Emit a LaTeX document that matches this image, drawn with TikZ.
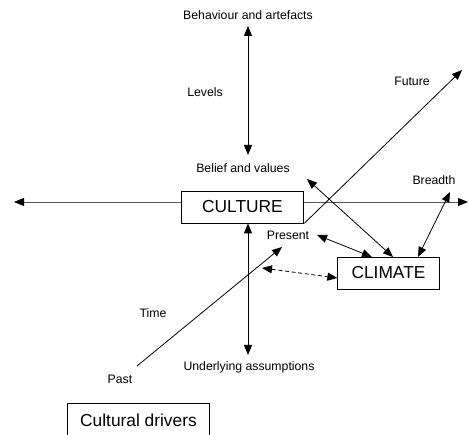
\documentclass[tikz,border=0pt]{standalone}
\usepackage{fontspec}
\setmainfont{Liberation Sans}
\usetikzlibrary{arrows.meta}

\begin{document}
\begin{tikzpicture}[x=0.75pt,y=0.75pt,line width=0.6pt,>={Triangle[length=7.5pt,width=6pt,color=black]},
  box/.style = {draw,inner sep=0pt,font=\fontsize{13}{15}\selectfont},
  lbl/.style = {inner sep=1pt,font=\fontsize{9.2}{11}\selectfont}]

\useasboundingbox (0,0) rectangle (469,435);

\node[box,minimum width=92pt,minimum height=24pt] (culture) at (242.5,228) {CULTURE};
\node[box,minimum width=76pt,minimum height=24pt] (climate) at (388.5,162) {CLIMATE};
\node[box,minimum width=106pt,minimum height=26pt] (drivers) at (138.5,14.7) {Cultural drivers};

\node[lbl] (behaviour) at (248,420) {Behaviour and artefacts};
\node[lbl] (levels) at (205,343) {Levels};
\node[lbl] (belief) at (243,267) {Belief and values};
\node[lbl] (future) at (412,354) {Future};
\node[lbl] (breadth) at (434,255) {Breadth};
\node[lbl] (present) at (288,200) {Present};
\node[lbl] (time) at (153,122) {Time};
\node[lbl] (past) at (120,56) {Past};
\node[lbl] (assumptions) at (249,68) {Underlying assumptions};

% free ends
\coordinate (w) at (14,233);
\coordinate (e) at (468,233);
\coordinate (top) at (248,409);
\coordinate (mid) at (248,280);
\coordinate (bot) at (248,80);
\coordinate (t0) at (137,69);
\coordinate (t1) at (282,188);
\coordinate (fut) at (462,365);
\coordinate (bv) at (307,256);
\coordinate (pr) at (317,200);
\coordinate (br) at (450,243);
\coordinate (ax) at (262,167);

\draw[<-,black!65] (w) -- (culture.west |- w);
\draw[->,black!65] (culture.east |- e) -- (e);

\draw[<->] (top) -- (mid);
\draw[<->] (culture.south -| bot) -- (bot);

\draw[->] (t0) -- (t1);
\draw[->] (culture.south east) -- (fut);

\draw[<->] (bv) -- (393,178);
\draw[<->] (pr) -- (372,178);
\draw[<->] (br) -- (418,178);
\draw[<->,densely dashed] (ax) -- (climate.west |- 0,157);

\end{tikzpicture}
\end{document}
